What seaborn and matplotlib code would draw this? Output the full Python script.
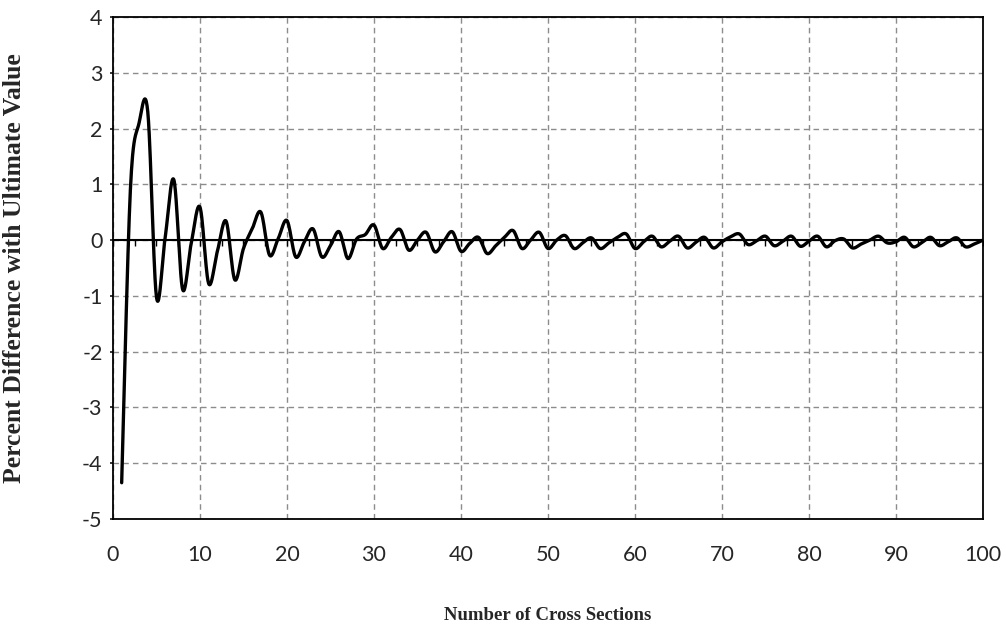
import numpy as np
import pandas as pd
import matplotlib
matplotlib.use("Agg")
import matplotlib.pyplot as plt
import seaborn as sns

# Number of cross sections (1..100) and percent difference from the ultimate value
sections = list(range(1, 101))
pct_diff = [
    -4.35, 0.90, 2.10, 2.30, -1.02, 0.05, 1.08, -0.88, -0.05, 0.59,   # 1-10
    -0.78, -0.20, 0.34, -0.71, -0.15, 0.20, 0.50, -0.27, 0.03, 0.35,   # 11-20
    -0.30, -0.03, 0.20, -0.30, -0.10, 0.15, -0.33, 0.02, 0.10, 0.27,   # 21-30
    -0.15, 0.05, 0.19, -0.18, 0.00, 0.14, -0.21, -0.03, 0.15, -0.20,   # 31-40
    -0.06, 0.05, -0.24, -0.10, 0.05, 0.17, -0.15, 0.00, 0.14, -0.15,   # 41-50
    0.00, 0.08, -0.15, -0.05, 0.04, -0.15, -0.05, 0.05, 0.11, -0.15,   # 51-60
    -0.03, 0.07, -0.12, -0.02, 0.07, -0.14, -0.04, 0.05, -0.14, -0.03, # 61-70
    0.06, 0.11, -0.08, -0.01, 0.07, -0.10, -0.02, 0.07, -0.11, -0.02,  # 71-80
    0.07, -0.12, -0.01, 0.02, -0.14, -0.07, 0.00, 0.07, -0.05, -0.03,  # 81-90
    0.05, -0.12, -0.04, 0.05, -0.10, -0.03, 0.04, -0.12, -0.07, 0.00,  # 91-100
]

x_ticks = [0, 10, 20, 30, 40, 50, 60, 70, 80, 90, 100]
y_ticks = [-5, -4, -3, -2, -1, 0, 1, 2, 3, 4]


def smooth_curve(x, y, steps=24):
    """Cubic Bezier smoothing through every point (spreadsheet-style smoothed line)."""
    x = np.asarray(x, float)
    y = np.asarray(y, float)
    px = np.concatenate([[x[0]], x, [x[-1]]])
    py = np.concatenate([[y[0]], y, [y[-1]]])
    t = np.linspace(0, 1, steps, endpoint=False)
    xs, ys = [], []
    for i in range(1, len(px) - 2):
        p0 = np.array([px[i], py[i]])
        p3 = np.array([px[i + 1], py[i + 1]])
        c1 = p0 + (p3 - np.array([px[i - 1], py[i - 1]])) / 6.0
        c2 = p3 - (np.array([px[i + 2], py[i + 2]]) - p0) / 6.0
        b = ((1 - t) ** 3)[:, None] * p0 + (3 * (1 - t) ** 2 * t)[:, None] * c1 \
            + (3 * (1 - t) * t ** 2)[:, None] * c2 + (t ** 3)[:, None] * p3
        xs.append(b[:, 0])
        ys.append(b[:, 1])
    xs.append([x[-1]])
    ys.append([y[-1]])
    return np.concatenate(xs), np.concatenate(ys)


sx, sy = smooth_curve(sections, pct_diff)
curve = pd.DataFrame({"sections": sx, "diff": sy})

sns.set_style("white")
plt.rcParams["font.family"] = ["Lato", "DejaVu Sans"]

fig = plt.figure(figsize=(10.06, 6.28), dpi=100)
ax = fig.add_axes([0.1123, 0.1736, 0.8648, 0.7993])

ax.set_xlim(0, 100)
ax.set_ylim(-5, 4)
ax.set_xticks(x_ticks)
ax.set_yticks(y_ticks)
ax.set_xticklabels([str(v) for v in x_ticks])
ax.set_yticklabels([str(v) for v in y_ticks])

# Dashed grey grid
ax.grid(True, color="#8c8c8c", linestyle=(0, (4, 3)), linewidth=1.0)
ax.set_axisbelow(True)

for side in ["left", "right", "top", "bottom"]:
    ax.spines[side].set_visible(True)
    ax.spines[side].set_color("black")
    ax.spines[side].set_linewidth(1.3)

ax.tick_params(axis="x", length=0, pad=19, labelsize=15.5)
ax.tick_params(axis="y", direction="out", length=2.5, width=1.1, color="black",
               pad=5, labelsize=15.5, left=True)

# Horizontal axis line crossing at zero with its tick marks
ax.axhline(0, color="black", linewidth=1.5, zorder=2)
ax.plot(np.arange(0, 100.1, 2.5), np.zeros(41), linestyle="none",
        marker=3, markersize=4, markeredgewidth=1.0, color="black", zorder=2)

sns.lineplot(data=curve, x="sections", y="diff", sort=False, estimator=None,
             color="black", linewidth=2.4, ax=ax, zorder=3)

ax.set_xlabel("Number of Cross Sections", family="Liberation Serif",
              fontweight="bold", fontsize=13.5)
ax.set_ylabel("Percent Difference with Ultimate Value", family="Liberation Serif",
              fontweight="bold", fontsize=18.5)
ax.xaxis.set_label_coords(0.5, -0.176)
ax.yaxis.set_label_coords(-0.100, 0.5)

fig.savefig("out.png", dpi=100)
